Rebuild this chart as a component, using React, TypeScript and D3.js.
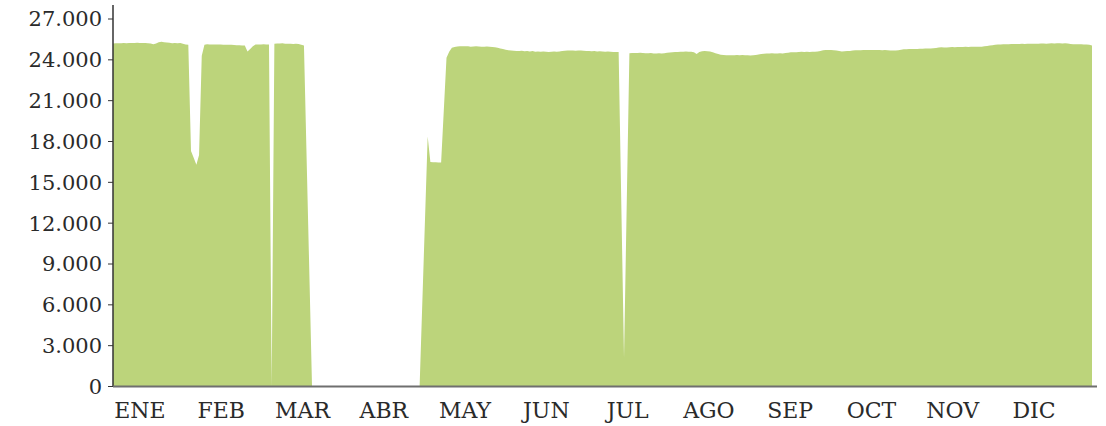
import React, { useEffect, useRef } from 'react';
import * as d3 from 'd3';

// month labels on the x axis
const months = ['ENE', 'FEB', 'MAR', 'ABR', 'MAY', 'JUN', 'JUL', 'AGO', 'SEP', 'OCT', 'NOV', 'DIC'];

// y ticks
const yTicks = [0, 3000, 6000, 9000, 12000, 15000, 18000, 21000, 24000, 27000];

// daily values, null = no record that day
const ene = [
  25200, 25210, 25220, 25220, 25230, 25220, 25230, 25240, 25240, 25250, 25240, 25230, 25230, 25220,
  25200, 25150, 25200, 25290, 25330, 25300, 25280, 25260, 25220, 25230, 25220, 25230, 25180, 25120, 25100,
  17300, 16800,
];
const feb = [
  16300, 17000, 24300, 25100,
  25140, 25130, 25130, 25120, 25130, 25120, 25110, 25100, 25110, 25100, 25090, 25080, 25070, 25060,
  25050, 24620, 24800, 25000, 25130,
  25120, 25130, 25140, 25130, 25130,
];
const mar = [
  0,
  25180, 25200, 25200, 25210, 25190, 25180, 25190, 25170, 25180, 25160, 25100,
  25050, null, null,
  0, 0, 0, 0, 0, 0, 0, 0, 0, 0, 0, 0, 0, 0, 0, 0,
];
const abr = [
  0, 0, 0, 0, 0, 0, 0, 0, 0, 0, 0, 0, 0, 0, 0, 0, 0, 0, 0, 0, 0, 0, 0, 0, 0,
  null, null, 18360, 16500, 16480,
];
const may = [
  16470, 16460, 16450, null, 24150, 24600, 24880, 24950,
  24980, 25000, 24990, 25000, 24990, 24970, 24980, 24990, 24980, 24960, 24970, 24980, 24960, 24950,
  24920, 24880, 24840, 24790, 24750, 24700, 24680, 24660, 24650,
];
const jun = [
  24640, 24660, 24630, 24650, 24620, 24640, 24600, 24620, 24590, 24610,
  24600, 24580, 24600, 24620, 24590, 24610, 24640, 24660, 24680, 24690,
  24680, 24670, 24690, 24680, 24660, 24640, 24650, 24630, 24640, 24620,
];
const jul = [
  24630, 24620, 24600, 24610, 24590, 24580, 24570, 24580,
  null, 2100, null,
  24480, 24500, 24510, 24500, 24520, 24510, 24490, 24480, 24500, 24470,
  24460, 24480, 24470, 24490, 24520, 24540, 24560, 24580, 24570, 24590,
];
const ago = [
  24600, 24610, 24600, 24590, 24550, 24430, 24580, 24630, 24640, 24630,
  24620, 24560, 24480, 24420, 24380, 24350, 24340, 24330, 24340, 24330,
  24350, 24340, 24360, 24330, 24340, 24320, 24340, 24350, 24400, 24430, 24440,
];
const sep = [
  24460, 24470, 24480, 24470, 24460, 24480, 24470, 24500, 24520, 24550,
  24560, 24550, 24580, 24590, 24570, 24590, 24580, 24600, 24590, 24620,
  24650, 24700, 24720, 24730, 24720, 24710, 24680, 24640, 24620, 24630,
];
const oct = [
  24640, 24650, 24680, 24700, 24710, 24700, 24720, 24730, 24720, 24730,
  24720, 24730, 24720, 24710, 24720, 24700, 24690, 24680, 24690, 24700,
  24740, 24770, 24780, 24790, 24800, 24790, 24800, 24820, 24810, 24830, 24830,
];
const nov = [
  24840, 24860, 24870, 24900, 24930, 24900, 24910, 24930, 24940, 24930,
  24950, 24940, 24950, 24960, 24950, 24960, 24960, 24970, 24960, 24970,
  24990, 25020, 25050, 25080, 25100, 25120, 25130, 25140, 25150, 25150,
];
const dic = [
  25160, 25160, 25170, 25170, 25180, 25170, 25180, 25190, 25180, 25190,
  25190, 25200, 25200, 25190, 25200, 25210, 25200, 25210, 25210, 25200,
  25210, 25200, 25170, 25150, 25140, 25150, 25140, 25130, 25120, 25100, 25050,
];

export default function App() {
  const ref = useRef<SVGSVGElement>(null);

  useEffect(() => {
    const width = 1106;
    const height = 426;
    const margin = { top: 19, right: 14, bottom: 39, left: 113 };
    const font = "'DejaVu Serif', serif";

    const daily = [...ene, ...feb, ...mar, ...abr, ...may, ...jun, ...jul, ...ago, ...sep, ...oct, ...nov, ...dic];
    const data = daily
      .map((v, i) => ({ day: i, value: v }))
      .filter((d) => d.value !== null) as { day: number; value: number }[];

    const x = d3
      .scaleLinear()
      .domain([0, daily.length - 1])
      .range([margin.left, 1092]);

    const y = d3
      .scaleLinear()
      .domain([0, 27000])
      .range([height - margin.bottom - 0.5, margin.top]);

    const fmt = d3.formatLocale({ decimal: ',', thousands: '.', grouping: [3], currency: ['', ''] }).format(',d');

    const svg = d3.select(ref.current);
    svg.selectAll('*').remove();

    // area
    const area = d3
      .area<{ day: number; value: number }>()
      .x((d) => x(d.day))
      .y0(y(0))
      .y1((d) => y(d.value));

    svg.append('path').datum(data).attr('d', area).attr('fill', '#bcd47b');

    // y axis
    const yAxis = svg.append('g');
    yAxis
      .append('line')
      .attr('x1', margin.left)
      .attr('x2', margin.left)
      .attr('y1', 5)
      .attr('y2', y(0))
      .attr('stroke', '#333')
      .attr('stroke-width', 1.5);

    yAxis
      .selectAll('line.tick')
      .data(yTicks)
      .enter()
      .append('line')
      .attr('class', 'tick')
      .attr('x1', margin.left - 5)
      .attr('x2', margin.left)
      .attr('y1', (d) => y(d))
      .attr('y2', (d) => y(d))
      .attr('stroke', '#333')
      .attr('stroke-width', 1);

    yAxis
      .selectAll('text')
      .data(yTicks)
      .enter()
      .append('text')
      .attr('x', margin.left - 11)
      .attr('y', (d) => y(d))
      .attr('dy', '0.35em')
      .attr('text-anchor', 'end')
      .style('font-family', font)
      .style('font-size', '21px')
      .attr('fill', '#2a2a2a')
      .text((d) => fmt(d));

    // x axis
    svg
      .append('line')
      .attr('x1', margin.left)
      .attr('x2', 1097)
      .attr('y1', y(0))
      .attr('y2', y(0))
      .attr('stroke', '#6f6f6f')
      .attr('stroke-width', 2);

    const xm = d3.scalePoint<string>().domain(months).range([140, 1034]);

    svg
      .append('g')
      .selectAll('text')
      .data(months)
      .enter()
      .append('text')
      .attr('x', (d) => xm(d) as number)
      .attr('y', 418)
      .attr('text-anchor', 'middle')
      .style('font-family', font)
      .style('font-size', '22px')
      .attr('fill', '#2a2a2a')
      .text((d) => d);
  }, []);

  return (
    <svg
      ref={ref}
      width={1106}
      height={426}
      style={{ position: 'absolute', left: 0, top: 0, background: '#fff' }}
    />
  );
}
